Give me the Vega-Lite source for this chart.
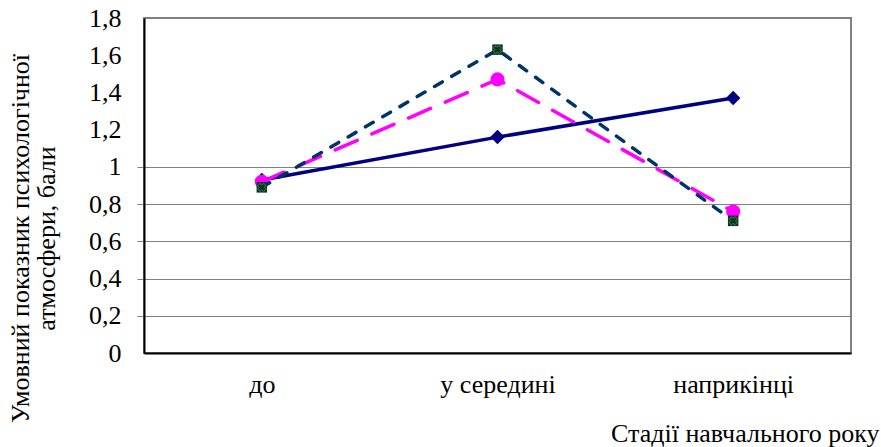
{
  "$schema": "https://vega.github.io/schema/vega-lite/v6.json",
  "width": 707,
  "height": 335,
  "autosize": {"type": "none"},
  "padding": {"left": 144, "top": 18, "right": 30, "bottom": 94},
  "background": "white",
  "config": {
    "view": {"stroke": "#808080", "strokeWidth": 2},
    "font": "Liberation Serif"
  },
  "data": {
    "values": [
      {"stage": "до", "series": "A", "value": 0.93},
      {"stage": "у середині", "series": "A", "value": 1.16},
      {"stage": "наприкінці", "series": "A", "value": 1.37},
      {"stage": "до", "series": "B", "value": 0.89},
      {"stage": "у середині", "series": "B", "value": 1.63},
      {"stage": "наприкінці", "series": "B", "value": 0.71},
      {"stage": "до", "series": "C", "value": 0.92},
      {"stage": "у середині", "series": "C", "value": 1.47},
      {"stage": "наприкінці", "series": "C", "value": 0.76}
    ]
  },
  "encoding": {
    "x": {
      "field": "stage",
      "type": "ordinal",
      "sort": ["до", "у середині", "наприкінці"],
      "scale": {"type": "point", "padding": 0.5},
      "axis": {
        "title": "Стадії навчального року",
        "titleFont": "Liberation Serif",
        "titleFontSize": 26,
        "titleFontWeight": "normal",
        "titleColor": "black",
        "titleX": 735,
        "titleY": 88,
        "titleAlign": "right",
        "titleBaseline": "alphabetic",
        "labelFont": "Liberation Serif",
        "labelFontSize": 26,
        "labelColor": "black",
        "labelAngle": 0,
        "labelBaseline": "alphabetic",
        "labelPadding": 39,
        "ticks": false,
        "domainColor": "black",
        "domainWidth": 2,
        "grid": false
      }
    },
    "y": {
      "field": "value",
      "type": "quantitative",
      "scale": {"domain": [0, 1.8], "nice": false},
      "axis": {
        "values": [0, 0.2, 0.4, 0.6, 0.8, 1, 1.2, 1.4, 1.6, 1.8],
        "labelExpr": "replace(format(datum.value, '~g'), '.', ',')",
        "labelFont": "Liberation Serif",
        "labelFontSize": 26,
        "labelColor": "black",
        "labelPadding": 16,
        "tickSize": 7,
        "tickColor": "#808080",
        "tickWidth": 1,
        "tickOpacity": {"condition": {"test": "datum.value > 1.001 || datum.value < 0.001", "value": 0}, "value": 1},
        "grid": true,
        "gridColor": "#808080",
        "gridWidth": 1,
        "gridOpacity": {"condition": {"test": "datum.value > 1.001 || datum.value < 0.001", "value": 0}, "value": 1},
        "domainColor": "black",
        "domainWidth": 2,
        "title": ["Умовний показник психологічної", "атмосфери, бали"],
        "titleFont": "Liberation Serif",
        "titleFontSize": 26,
        "titleFontWeight": "normal",
        "titleColor": "black",
        "titleAngle": -90,
        "titleAlign": "center",
        "titleBaseline": "middle",
        "titleLineHeight": 26,
        "titleX": -124,
        "titleY": 220
      }
    }
  },
  "layer": [
    {
      "transform": [{"filter": "datum.series === 'A'"}],
      "mark": {"type": "line", "color": "#000080", "strokeWidth": 3.5}
    },
    {
      "transform": [{"filter": "datum.series === 'A'"}],
      "mark": {"type": "point", "shape": "diamond", "filled": true, "color": "#000080", "size": 210, "opacity": 1}
    },
    {
      "transform": [{"filter": "datum.series === 'C'"}],
      "mark": {"type": "line", "color": "#FF00FF", "strokeWidth": 3.5, "strokeDash": [24, 16], "strokeCap": "round"}
    },
    {
      "transform": [{"filter": "datum.series === 'C'"}],
      "mark": {"type": "point", "shape": "circle", "filled": true, "color": "#FF00FF", "size": 200, "opacity": 1}
    },
    {
      "transform": [{"filter": "datum.series === 'B'"}],
      "mark": {"type": "line", "color": "#003366", "strokeWidth": 3.5, "strokeDash": [9, 11], "strokeCap": "round"}
    },
    {
      "transform": [{"filter": "datum.series === 'B'"}],
      "mark": {"type": "point", "shape": "square", "filled": true, "color": "#0b3320", "size": 110, "opacity": 1}
    },
    {
      "transform": [{"filter": "datum.series === 'B'"}],
      "mark": {"type": "point", "shape": "cross", "angle": 45, "filled": false, "color": "#2e6b4a", "strokeWidth": 1, "size": 70, "opacity": 1}
    }
  ]
}
